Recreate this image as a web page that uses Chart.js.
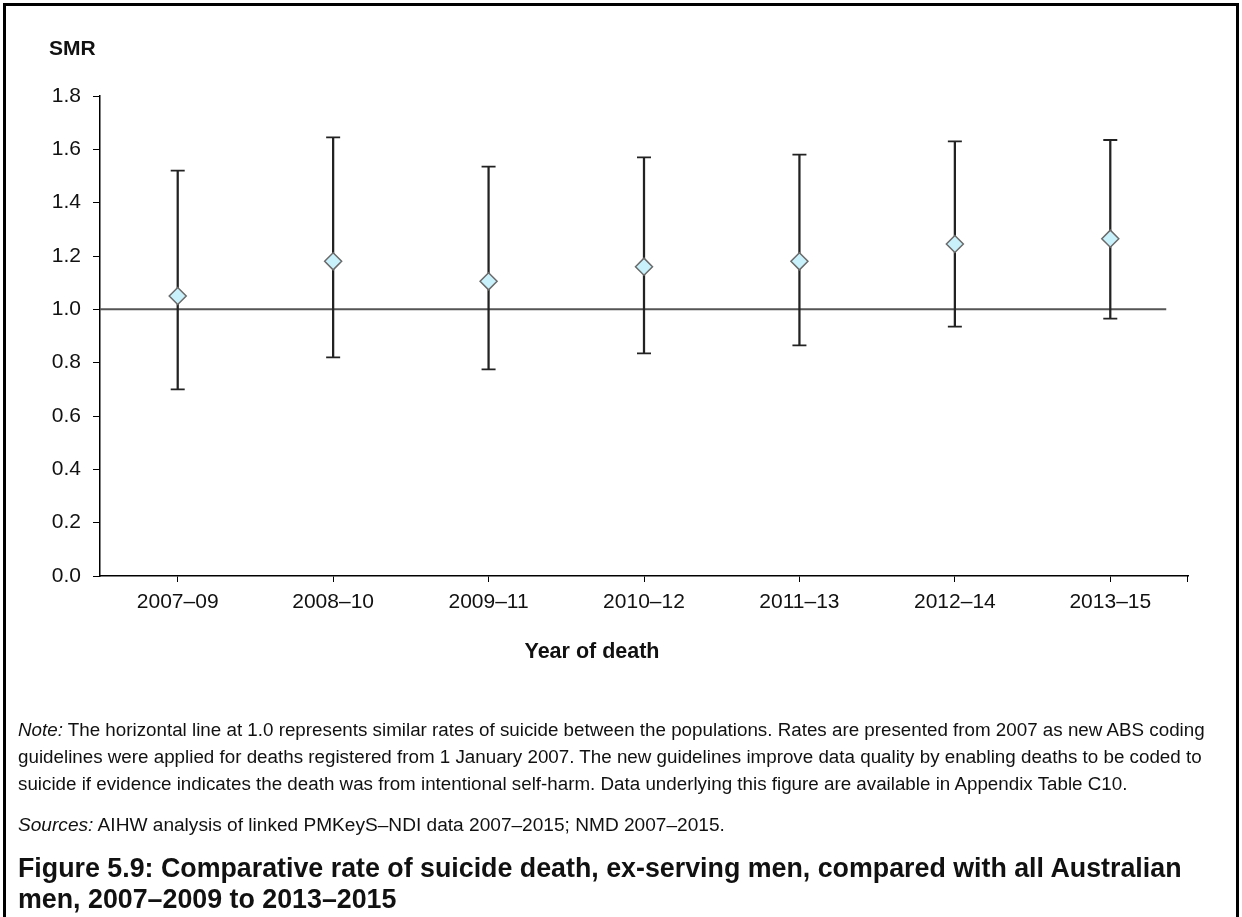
<!DOCTYPE html>
<html>
<head>
<meta charset="utf-8">
<script src="https://cdn.jsdelivr.net/npm/chart.js@4"></script>
<style>
  html, body { margin: 0; padding: 0; background: #fff; width: 1242px; height: 917px; overflow: hidden; }
  body { position: relative; font-family: 'Liberation Sans', Arial, sans-serif; color: #111; }
  #frame { position: absolute; left: 3px; top: 3px; width: 1236px; height: 1000px; box-sizing: border-box; border: 3px solid #000; }
  #chart { position: absolute; left: 0; top: 0; }
  .txt { position: absolute; white-space: nowrap; }
  #ytitle { left: 49px; top: 37px; font-size: 21px; font-weight: bold; line-height: 1; }
  #xtitle { left: 392px; width: 400px; text-align: center; top: 641px; font-size: 21.5px; font-weight: bold; line-height: 1; }
  #note { left: 18px; top: 716px; font-size: 18.8px; line-height: 27px; }
  #sources { left: 18px; top: 811px; font-size: 19.1px; line-height: 27px; }
  #figtitle { left: 18px; top: 853px; font-size: 26.8px; font-weight: bold; line-height: 31px; }
</style>
</head>
<body>
<div id="frame"></div>
<canvas id="chart" width="1242" height="917"></canvas>
<div class="txt" id="ytitle">SMR</div>
<div class="txt" id="xtitle">Year of death</div>
<div class="txt" id="note"><i>Note:</i> The horizontal line at 1.0 represents similar rates of suicide between the populations. Rates are presented from 2007 as new ABS coding<br>guidelines were applied for deaths registered from 1 January 2007. The new guidelines improve data quality by enabling deaths to be coded to<br>suicide if evidence indicates the death was from intentional self-harm. Data underlying this figure are available in Appendix Table C10.</div>
<div class="txt" id="sources"><i>Sources:</i> AIHW analysis of linked PMKeyS–NDI data 2007–2015; NMD 2007–2015.</div>
<div class="txt" id="figtitle">Figure 5.9: Comparative rate of suicide death, ex-serving men, compared with all Australian<br>men, 2007–2009 to 2013–2015</div>
<script>
// ---- data ----
const categories = ['2007–09', '2008–10', '2009–11', '2010–12', '2011–13', '2012–14', '2013–15'];
const smr        = [1.05, 1.18, 1.105, 1.16, 1.18, 1.245, 1.265];
const lowerCI    = [0.70, 0.82, 0.775, 0.835, 0.865, 0.935, 0.965];
const upperCI    = [1.52, 1.645, 1.535, 1.57, 1.58, 1.63, 1.635];
const yTickLabels = ['0.0', '0.2', '0.4', '0.6', '0.8', '1.0', '1.2', '1.4', '1.6', '1.8'];
const referenceValue = 1.0;

const FONT = "'Liberation Sans', Arial, sans-serif";

const refLinePlugin = {
  id: 'refLine',
  beforeDatasetsDraw(chart) {
    const { ctx, chartArea, scales: { x, y } } = chart;
    const py = y.getPixelForValue(referenceValue);
    const step = x.getPixelForValue(1) - x.getPixelForValue(0);
    const endX = x.getPixelForValue(categories.length - 1) + step * 0.36;
    ctx.save();
    ctx.strokeStyle = '#555';
    ctx.lineWidth = 2;
    ctx.beginPath();
    ctx.moveTo(chartArea.left, py);
    ctx.lineTo(endX, py);
    ctx.stroke();
    ctx.restore();
  },
  afterDraw(chart) {
    const { ctx, chartArea } = chart;
    ctx.save();
    ctx.strokeStyle = '#000';
    ctx.lineWidth = 1;
    ctx.beginPath();
    ctx.moveTo(chartArea.right - 0.5, chartArea.bottom);
    ctx.lineTo(chartArea.right - 0.5, chartArea.bottom + 6);
    ctx.stroke();
    ctx.restore();
  }
};

new Chart(document.getElementById('chart'), {
  type: 'bar',
  data: {
    labels: categories,
    datasets: [
      {
        type: 'line',
        label: 'SMR',
        data: smr,
        showLine: false,
        pointStyle: 'rectRot',
        pointRadius: 8.5,
        pointHoverRadius: 8.5,
        pointBackgroundColor: '#c9f1fb',
        pointBorderColor: '#6a6a6a',
        pointBorderWidth: 1.5
      },
      {
        type: 'line',
        label: 'Lower',
        data: lowerCI,
        showLine: false,
        pointStyle: 'line',
        pointRadius: 7,
        pointBorderColor: '#222',
        pointBorderWidth: 1.8
      },
      {
        type: 'line',
        label: 'Upper',
        data: upperCI,
        showLine: false,
        pointStyle: 'line',
        pointRadius: 7,
        pointBorderColor: '#222',
        pointBorderWidth: 1.8
      },
      {
        type: 'bar',
        label: 'CI',
        data: categories.map((c, i) => [lowerCI[i], upperCI[i]]),
        backgroundColor: '#222',
        borderWidth: 0,
        barThickness: 1.6
      }
    ]
  },
  options: {
    responsive: false,
    animation: false,
    devicePixelRatio: 1,
    layout: { padding: { left: 0, top: 96, right: 54, bottom: 291 } },
    plugins: { legend: { display: false }, tooltip: { enabled: false }, title: { display: false } },
    scales: {
      x: {
        type: 'category',
        offset: true,
        afterFit(scale) { scale.height = 50; },
        grid: { offset: false, drawOnChartArea: false, drawTicks: true, tickLength: 6, color: '#000', lineWidth: 1 },
        border: { display: true, color: '#000', width: 1.5 },
        ticks: { color: '#111', font: { family: FONT, size: 21 }, padding: 8, maxRotation: 0, autoSkip: false }
      },
      y: {
        min: 0,
        max: 1.8,
        afterFit(scale) { scale.width = 100; },
        afterBuildTicks(scale) { scale.ticks = yTickLabels.map(t => ({ value: parseFloat(t) })); },
        grid: { drawOnChartArea: false, drawTicks: true, tickLength: 7, color: '#000', lineWidth: 1 },
        border: { display: true, color: '#000', width: 1.5 },
        ticks: {
          color: '#111',
          font: { family: FONT, size: 21 },
          padding: 12,
          callback: (v, i) => yTickLabels[i]
        }
      }
    }
  },
  plugins: [refLinePlugin]
});
</script>
</body>
</html>
